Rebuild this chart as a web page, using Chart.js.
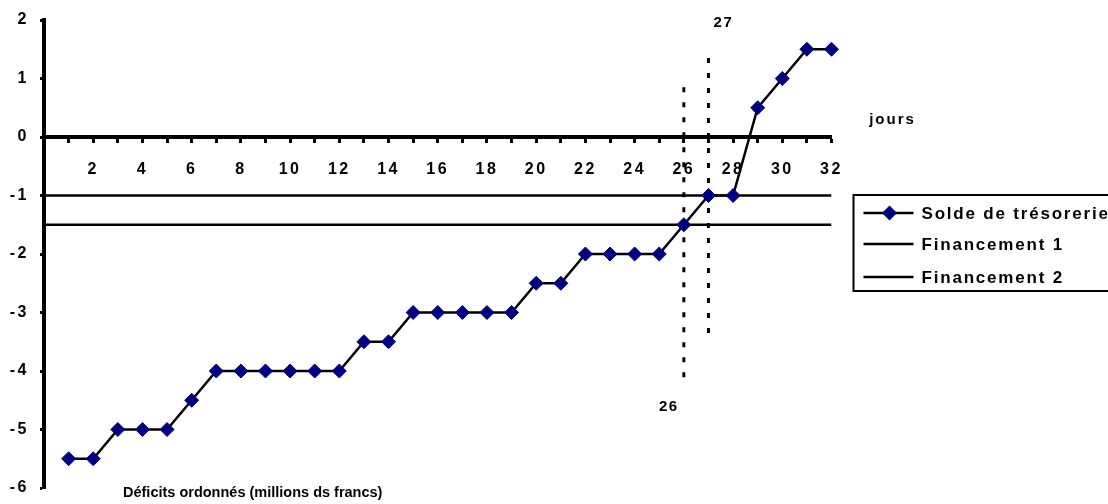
<!DOCTYPE html>
<html>
<head>
<meta charset="utf-8">
<script src="https://cdn.jsdelivr.net/npm/chart.js@4/dist/chart.umd.min.js"></script>
<style>
  html, body { margin: 0; background: #fff; }
</style>
</head>
<body>
<canvas id="chart" width="1108" height="504"></canvas>
<script>
'use strict';

// jours 1..32
const days = [1,2,3,4,5,6,7,8,9,10,11,12,13,14,15,16,17,18,19,20,21,22,23,24,25,26,27,28,29,30,31,32];
const solde = [-5.5,-5.5,-5,-5,-5,-4.5,-4,-4,-4,-4,-4,-4,-3.5,-3.5,-3,-3,-3,-3,-3,-2.5,-2.5,-2,-2,-2,-2,-1.5,-1,-1,0.5,1,1.5,1.5];

// lignes de financement (de 0 à 32)
const financeX = [0, 32];
const financement1 = [-1, -1];
const financement2 = [-1.5, -1.5];

// repères verticaux pointillés
const markerDays = [26, 27];
const marker26 = [0.85, -4.2];
const marker27 = [1.35, -3.47];

const yTicks = [2, 1, 0, -1, -2, -3, -4, -5, -6];

const FONT = "'Liberation Sans', Arial, sans-serif";
const NAVY = '#000080';

const pts = (xs, ys) => ys.map((y, i) => ({ x: xs[i], y: y }));

const textPlugin = {
    id: 'texts',
    beforeDraw(chart) {
        chart.ctx.letterSpacing = '2.5px';
    },
    afterDraw(chart) {
        const { ctx, chartArea, scales: { x, y } } = chart;
        ctx.save();
        ctx.fillStyle = '#000';
        ctx.textAlign = 'center';
        ctx.textBaseline = 'middle';
        // étiquettes des repères
        ctx.font = 'bold 15px ' + FONT;
        ctx.letterSpacing = '1.5px';
        ctx.fillText(markerDays[0], x.getPixelForValue(markerDays[0]) - 15, y.getPixelForValue(marker26[1]) + 24);
        ctx.fillText(markerDays[1], x.getPixelForValue(markerDays[1]) + 15, y.getPixelForValue(marker27[0]) - 35);
        ctx.letterSpacing = '2px';
        ctx.fillText('jours', chartArea.right + 61, y.getPixelForValue(0) - 17);
        ctx.letterSpacing = '0px';
        ctx.textAlign = 'left';
        ctx.font = 'bold 14.5px ' + FONT;
        ctx.fillText('Déficits ordonnés (millions ds francs)', 123, 493);

        // légende
        const lx = chartArea.right + 22, ly = 195;
        ctx.lineWidth = 2;
        ctx.strokeStyle = '#000';
        ctx.strokeRect(lx, ly, 300, 96);
        const items = ['Solde de trésorerie', 'Financement 1', 'Financement 2'];
        const rows = [213, 244, 277];
        ctx.font = 'bold 17px ' + FONT;
        ctx.letterSpacing = '1.8px';
        ctx.lineWidth = 2.5;
        items.forEach((t, i) => {
            ctx.beginPath();
            ctx.moveTo(lx + 10, rows[i]);
            ctx.lineTo(lx + 60, rows[i]);
            ctx.stroke();
            if (i === 0) {
                ctx.fillStyle = NAVY;
                ctx.beginPath();
                ctx.moveTo(lx + 36, rows[i] - 7.5);
                ctx.lineTo(lx + 43.5, rows[i]);
                ctx.lineTo(lx + 36, rows[i] + 7.5);
                ctx.lineTo(lx + 28.5, rows[i]);
                ctx.closePath();
                ctx.fill();
                ctx.fillStyle = '#000';
            }
            ctx.fillText(t, lx + 68, rows[i] + 1);
        });
        ctx.restore();
    }
};

new Chart(document.getElementById('chart'), {
    type: 'line',
    data: {
        datasets: [
            {
                label: 'Solde de trésorerie',
                data: pts(days, solde),
                borderColor: '#000',
                borderWidth: 2.5,
                pointStyle: 'rectRot',
                pointRadius: 7,
                pointBackgroundColor: NAVY,
                pointBorderColor: NAVY,
                pointBorderWidth: 1,
                clip: false
            },
            {
                label: 'Financement 1',
                data: pts(financeX, financement1),
                borderColor: '#000',
                borderWidth: 2.5,
                pointRadius: 0
            },
            {
                label: 'Financement 2',
                data: pts(financeX, financement2),
                borderColor: '#000',
                borderWidth: 2.5,
                pointRadius: 0
            },
            {
                label: 'j26',
                data: pts([markerDays[0], markerDays[0]], marker26),
                borderColor: '#000',
                borderWidth: 3,
                borderDash: [5, 10],
                pointRadius: 0
            },
            {
                label: 'j27',
                data: pts([markerDays[1], markerDays[1]], marker27),
                borderColor: '#000',
                borderWidth: 3,
                borderDash: [5, 10],
                pointRadius: 0
            }
        ]
    },
    options: {
        responsive: false,
        animation: false,
        layout: { padding: { top: 20, bottom: 16, right: 276.5, left: 0 } },
        plugins: {
            legend: { display: false },
            tooltip: { enabled: false }
        },
        scales: {
            x: {
                type: 'linear',
                min: 0,
                max: 32,
                position: { y: 0 },
                afterFit(scale) { scale.height = 0; },
                border: { display: true, color: '#000', width: 4 },
                grid: { drawOnChartArea: false, drawTicks: true, tickLength: 4, tickWidth: 3, color: '#000' },
                ticks: {
                    stepSize: 1,
                    autoSkip: false,
                    maxRotation: 0,
                    padding: 19,
                    color: '#000',
                    font: { family: FONT, size: 16, weight: 'bold' },
                    callback: v => (v > 0 && v % 2 === 0) ? String(v) : ''
                }
            },
            y: {
                min: -6,
                max: 2,
                afterFit(scale) {
                    scale.width = 44;
                    scale.paddingTop = 0;
                    scale.paddingBottom = 0;
                },
                afterBuildTicks(scale) { scale.ticks = yTicks.map(v => ({ value: v })); },
                border: { display: true, color: '#000', width: 4 },
                grid: { drawOnChartArea: false, drawTicks: true, tickLength: 4, tickWidth: 3, color: '#000' },
                ticks: {
                    padding: 11,
                    color: '#000',
                    font: { family: FONT, size: 16, weight: 'bold' }
                }
            }
        }
    },
    plugins: [textPlugin]
});
</script>
</body>
</html>
